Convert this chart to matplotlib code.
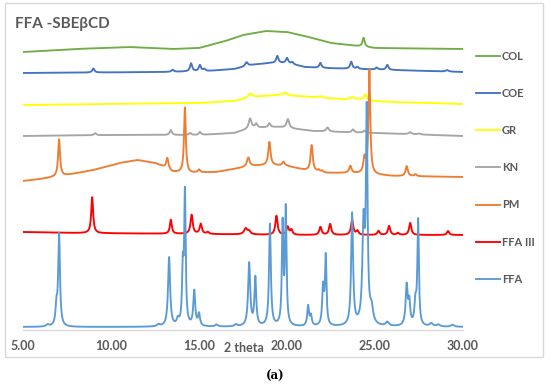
import numpy as np
import matplotlib
matplotlib.use('Agg')
import matplotlib.pyplot as plt
from matplotlib.patches import Rectangle

# 2 theta range of the diffractograms
x_min, x_max = 5.0, 30.0
x_ticks = [5, 10, 15, 20, 25, 30]

labels = ["COL", "COE", "GR", "KN", "PM", "FFA III", "FFA"]
colors = ["#70AD47", "#4472C4", "#FFFF00", "#A5A5A5", "#ED7D31", "#FF0000", "#5B9BD5"]

# baseline of each trace (2 theta, stacked intensity)
col_base_x = [5, 8, 11, 13.5, 15, 16.5, 17.5, 18.8, 20, 21, 22.5, 24, 25, 30]
col_base_y = [278, 281, 283, 281, 282, 289, 295, 299, 298, 294, 287, 284, 282, 281]
coe_base_x = [5, 13, 15.5, 17, 18, 19, 20, 20.5, 21, 22, 24, 26, 30]
coe_base_y = [257, 258, 259, 261, 265, 267, 267, 265, 263, 262, 261, 260, 258]
gr_base_x = [5, 10, 15, 17, 18, 19.5, 20.5, 21.5, 23, 24, 24.8, 26, 30]
gr_base_y = [225, 226, 227, 229, 233, 235, 234, 233, 231, 231, 229, 228, 226]
kn_base_x = [5, 10, 15, 17, 18, 19.5, 20.5, 21.5, 23, 25, 30]
kn_base_y = [194, 195, 195, 197, 202, 203, 201, 199, 198, 197, 194]
pm_base_x = [5, 6, 7.5, 9, 10.5, 11.5, 12.5, 13, 13.5, 14.5, 16, 17, 18, 19, 20, 21, 22, 23.5, 26, 30]
pm_base_y = [149, 151, 155, 160, 167, 170, 167, 163, 158, 157, 158, 161, 164, 165, 164, 160, 157, 157, 154, 153]
ffa3_base_x = [5, 8, 15, 20, 30]
ffa3_base_y = [98, 97, 96, 95, 95]
ffa_base_x = [5, 30]
ffa_base_y = [3, 3]

# peaks: (2 theta, height above baseline, FWHM)
col_peaks = [(24.35, 9, 0.15)]
coe_peaks = [(9.0, 4, 0.15), (13.5, 2, 0.15), (14.55, 8, 0.15), (15.05, 6, 0.15),
             (15.3, 2, 0.15), (17.7, 4, 0.18), (19.45, 7, 0.15), (20.0, 5, 0.15),
             (20.3, 2, 0.15), (21.9, 5, 0.15), (23.65, 7, 0.15), (24.0, 2, 0.15),
             (25.1, 2, 0.15), (25.7, 5, 0.15), (29.1, 1.5, 0.18)]
gr_peaks = [(17.9, 4, 0.25), (19.9, 3, 0.25), (21.9, 1.5, 0.2), (23.7, 2, 0.2), (24.45, 6, 0.18)]
kn_peaks = [(9.1, 2, 0.15), (13.4, 5, 0.15), (14.5, 2, 0.15), (15.05, 3, 0.15),
            (17.9, 10, 0.18), (18.25, 4, 0.15), (19.0, 4, 0.15), (20.05, 9, 0.18),
            (22.3, 4, 0.18), (23.75, 3, 0.15), (24.4, 2, 0.15), (27.0, 2, 0.18),
            (27.5, 1, 0.18)]
pm_peaks = [(7.05, 37, 0.13), (13.2, 11, 0.15), (14.2, 65, 0.12), (15.0, 3, 0.15),
            (17.8, 9, 0.18), (19.0, 23, 0.15), (19.8, 4, 0.15), (21.4, 26, 0.15),
            (21.8, 2, 0.15), (22.0, 2, 0.15), (23.6, 7, 0.15), (24.4, 15, 0.15),
            (24.68, 104, 0.12), (26.8, 10, 0.15), (27.3, 2, 0.15)]
ffa3_peaks = [(8.93, 36, 0.13), (13.4, 14, 0.13), (14.58, 19, 0.15), (15.1, 10, 0.15),
              (15.5, 2, 0.15), (17.65, 6, 0.22), (17.85, 3, 0.18), (19.4, 19, 0.15),
              (20.04, 8, 0.15), (20.25, 5, 0.15), (21.9, 8, 0.15), (22.45, 11, 0.15),
              (23.7, 15, 0.15), (24.0, 4, 0.15), (25.2, 4, 0.15), (25.8, 9, 0.15),
              (26.3, 2, 0.15), (27.0, 12, 0.15), (29.15, 4, 0.15)]
ffa_peaks = [(6.4, 2, 0.18), (6.9, 18, 0.12), (7.05, 92, 0.12), (12.7, 2, 0.18),
             (13.3, 69, 0.14), (13.8, 6, 0.15), (14.08, 54, 0.1), (14.2, 131, 0.1),
             (14.73, 35, 0.13), (15.0, 12, 0.13), (16.0, 2, 0.18), (17.1, 2, 0.18),
             (17.85, 63, 0.14), (18.2, 48, 0.12), (19.03, 102, 0.12), (19.75, 100, 0.1),
             (19.93, 115, 0.1), (21.2, 20, 0.12), (21.36, 10, 0.12), (22.05, 38, 0.12),
             (22.2, 68, 0.1), (23.7, 112, 0.13), (24.35, 98, 0.16), (24.53, 206, 0.11),
             (24.8, 15, 0.22), (25.7, 4, 0.22), (26.8, 40, 0.14), (26.95, 22, 0.12),
             (27.3, 22, 0.14), (27.45, 104, 0.1), (28.2, 3, 0.22), (28.6, 2, 0.22),
             (29.4, 2, 0.22)]

bases = [(col_base_x, col_base_y), (coe_base_x, coe_base_y), (gr_base_x, gr_base_y),
         (kn_base_x, kn_base_y), (pm_base_x, pm_base_y), (ffa3_base_x, ffa3_base_y),
         (ffa_base_x, ffa_base_y)]
peaks = [col_peaks, coe_peaks, gr_peaks, kn_peaks, pm_peaks, ffa3_peaks, ffa_peaks]


def pattern(x, base_x, base_y, peak_list):
    y = np.interp(x, base_x, base_y)
    for pos, h, w in peak_list:
        y = y + h / (1 + ((x - pos) / (w / 2)) ** 2)
    return y


def main():
    W, H = 550, 386
    fig = plt.figure(figsize=(W / 100, H / 100), dpi=100)
    font = ['Lato', 'DejaVu Sans']
    grey = "#595959"

    # plot area in pixels: x 23..463, y 3..330
    ax = fig.add_axes([23 / W, (H - 330) / H, 440 / W, 327 / H])
    x = np.linspace(x_min, x_max, 2501)
    for (bx, by), pk, lab, c in zip(bases, peaks, labels, colors):
        ax.plot(x, pattern(x, bx, by, pk), color=c, lw=1.35, label=lab)

    ax.set_xlim(x_min, x_max)
    ax.set_ylim(0, 327)
    ax.set_yticks([])
    ax.set_xticks(x_ticks)
    ax.set_xticklabels([f"{t:.2f}" for t in x_ticks], family=font,
                       fontweight='bold', fontsize=9, color=grey)
    ax.tick_params(axis='x', length=0, pad=7)
    for side in ["top", "right", "left"]:
        ax.spines[side].set_visible(False)
    ax.spines["bottom"].set_color("#D9D9D9")
    ax.spines["bottom"].set_linewidth(1.0)
    ax.patch.set_alpha(0)

    ax.set_xlabel("2 theta", family=font, fontweight='bold', fontsize=9,
                  color=grey, va='center')
    ax.xaxis.set_label_coords(0.502, -0.055)

    leg = ax.legend(loc='upper left', bbox_to_anchor=(476 / W, 1 - 51 / H),
                    bbox_transform=fig.transFigure, frameon=False,
                    prop={'family': font, 'weight': 'bold', 'size': 8},
                    handlelength=2.2, handletextpad=0.15, labelspacing=2.35,
                    borderpad=0, borderaxespad=0)
    for t in leg.get_texts():
        t.set_color(grey)

    fig.text(15 / W, 1 - 28 / H, "FFA -SBE\u03b2CD", family=font,
             fontweight='bold', fontsize=11, color=grey, va='baseline')
    fig.text(275 / W, 1 - 376 / H, "(a)", family='DejaVu Serif',
             fontsize=8.5, fontweight='bold', ha='center', va='center')

    fig.patches.append(Rectangle((5 / W, 1 - 357 / H), 538 / W, 354 / H,
                                 transform=fig.transFigure, fill=False,
                                 edgecolor="#D9D9D9", lw=1.0))

    fig.savefig("out.png", dpi=100)
    plt.close(fig)


if __name__ == "__main__":
    main()
